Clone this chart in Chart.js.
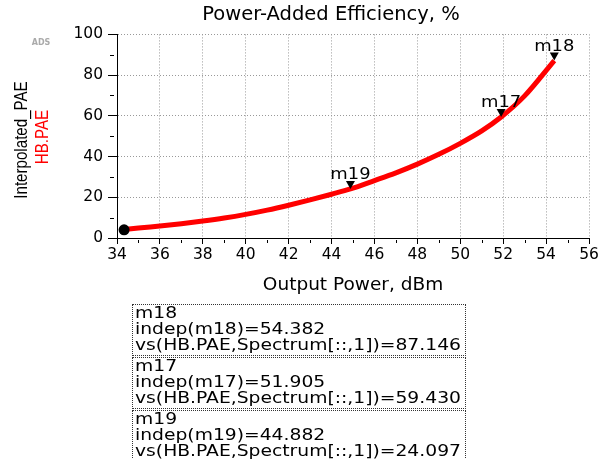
<!DOCTYPE html>
<html>
<head>
<meta charset="utf-8">
<script src="https://cdn.jsdelivr.net/npm/chart.js@4.4.1/dist/chart.umd.min.js"></script>
<style>
  html, body { margin: 0; padding: 0; background: #fff; }
  #wrap { position: relative; width: 611px; height: 459px; overflow: hidden; }
  #c { position: absolute; left: 0; top: 0; }
  .box {
    position: absolute; left: 132px; width: 330px; height: 50px;
    border: 1px dotted #333; padding: 0 0 0 2px;
    color: #000; white-space: nowrap; overflow: hidden;
  }
  .box div {
    font: 16px "DejaVu Sans", sans-serif; line-height: 16px; height: 16px;
    transform: scaleX(1.17); transform-origin: left center;
  }
</style>
</head>
<body>
<div id="wrap">
  <canvas id="c" width="611" height="459"></canvas>
</div>
<script>
// Curve (Output Power dBm -> PAE %)
const powerOut = [34.33, 35, 36, 37, 38, 39, 40, 41, 42, 43, 44, 44.882, 46, 47, 48, 49, 50, 51, 51.905, 53, 54.382];
const paeValues = [4.1, 4.9, 5.9, 7.0, 8.3, 9.8, 11.6, 13.7, 16.1, 18.7, 21.5, 24.097, 28.2, 32.0, 36.3, 41.1, 46.5, 52.6, 59.43, 69.8, 87.146];

// Start dot
const startX = [34.33];
const startY = [4.0];

// Markers
const markerNames = ['m18', 'm17', 'm19'];
const markerX = [54.382, 51.905, 44.882];
const markerY = [87.146, 59.430, 24.097];

// Axis ticks
const xTickValues = [34, 36, 38, 40, 42, 44, 46, 48, 50, 52, 54, 56];
const yTickValues = [0, 20, 40, 60, 80, 100];
const xMinorTicks = [35, 37, 39, 41, 43, 45, 47, 49, 51, 53, 55];
const yMinorTicks = [10, 30, 50, 70, 90];

// Texts
const chartTitle = 'Power-Added Efficiency, %';
const xTitle = 'Output Power, dBm';
const yTitle1 = 'Interpolated_PAE';
const yTitle2 = 'HB.PAE';

const FONT = '"DejaVu Sans", sans-serif';

// Minor ticks, y titles, ADS tag and marker triangles
const decorPlugin = {
  id: 'decor',
  afterDraw(chart) {
    const ctx = chart.ctx;
    const xs = chart.scales.x, ys = chart.scales.y;
    const area = chart.chartArea;
    ctx.save();
    ctx.strokeStyle = '#000';
    ctx.lineWidth = 1;
    ctx.beginPath();
    xMinorTicks.forEach(v => {
      const px = Math.round(xs.getPixelForValue(v)) + 0.5;
      ctx.moveTo(px, area.bottom + 2);
      ctx.lineTo(px, area.bottom + 5);
    });
    yMinorTicks.forEach(v => {
      const py = Math.round(ys.getPixelForValue(v)) + 0.5;
      ctx.moveTo(area.left - 7, py);
      ctx.lineTo(area.left - 3, py);
    });
    ctx.stroke();

    // y axis titles (narrow look)
    ctx.font = '18px "Liberation Sans", Arial, sans-serif';
    ctx.textAlign = 'center';
    ctx.textBaseline = 'middle';
    ctx.save();
    ctx.translate(22, 140);
    ctx.rotate(-Math.PI / 2);
    ctx.scale(0.84, 1);
    ctx.fillStyle = '#000';
    ctx.fillText(yTitle1, 0, 0);
    ctx.restore();
    ctx.save();
    ctx.translate(43, 137);
    ctx.rotate(-Math.PI / 2);
    ctx.scale(0.84, 1);
    ctx.fillStyle = '#ff0000';
    ctx.fillText(yTitle2, 0, 0);
    ctx.restore();

    // ADS tag
    ctx.font = 'bold 8px ' + FONT;
    ctx.fillStyle = '#aaa';
    ctx.fillText('ADS', 41, 43);

    // markers
    markerNames.forEach((name, i) => {
      const px = xs.getPixelForValue(markerX[i]);
      const py = ys.getPixelForValue(markerY[i]);
      ctx.fillStyle = '#000';
      ctx.beginPath();
      ctx.moveTo(px, py);
      ctx.lineTo(px - 4.5, py - 8);
      ctx.lineTo(px + 4.5, py - 8);
      ctx.closePath();
      ctx.fill();
      ctx.save();
      ctx.translate(px, py - 10);
      ctx.scale(1.12, 1);
      ctx.font = '16px ' + FONT;
      ctx.textBaseline = 'alphabetic';
      ctx.fillText(name, 0, 0);
      ctx.restore();
    });
    ctx.restore();
  }
};

const curveData = powerOut.map((x, i) => ({ x: x, y: paeValues[i] }));
const startData = startX.map((x, i) => ({ x: x, y: startY[i] }));

new Chart(document.getElementById('c'), {
  type: 'scatter',
  data: {
    datasets: [
      {
        data: startData,
        pointRadius: 5.5,
        pointBackgroundColor: '#000',
        pointBorderWidth: 0,
        showLine: false,
        order: 0
      },
      {
        data: curveData,
        showLine: true,
        borderColor: '#ff0000',
        borderWidth: 5,
        pointRadius: 0,
        cubicInterpolationMode: 'monotone',
        order: 1
      }
    ]
  },
  options: {
    responsive: false,
    animation: false,
    events: [],
    layout: { padding: { left: 73, right: 22, top: 0, bottom: 161 } },
    plugins: {
      legend: { display: false },
      tooltip: { enabled: false },
      title: {
        display: true,
        text: chartTitle,
        color: '#000',
        font: { family: FONT, size: 19.5, weight: 'normal' },
        padding: { top: 3, bottom: 8 }
      }
    },
    scales: {
      x: {
        type: 'linear',
        min: 34, max: 56,
        afterBuildTicks: s => { s.ticks = xTickValues.map(v => ({ value: v })); },
        afterFit: s => { s.height = 60; },
        ticks: { color: '#000', font: { family: FONT, size: 15.5 }, padding: 2, maxRotation: 0 },
        grid: { color: '#999', tickColor: '#000', tickLength: 6, lineWidth: 1 },
        border: { color: '#000', width: 1, dash: [1, 2] },
        title: { display: true, text: xTitle, color: '#000', font: { family: FONT, size: 18.5 }, padding: { top: 4, bottom: 2 } }
      },
      y: {
        type: 'linear',
        min: 0, max: 100,
        afterBuildTicks: s => { s.ticks = yTickValues.map(v => ({ value: v })); },
        afterFit: s => { s.width = 44; },
        ticks: { color: '#000', font: { family: FONT, size: 15.5 }, padding: 5 },
        grid: { color: '#999', tickColor: '#000', tickLength: 9, lineWidth: 1 },
        border: { color: '#000', width: 1, dash: [1, 2] }
      }
    }
  },
  plugins: [decorPlugin]
});

// Marker readout boxes
const boxTops = [304, 357, 410];
const wrap = document.getElementById('wrap');
markerNames.forEach((name, i) => {
  const d = document.createElement('div');
  d.className = 'box';
  d.style.top = boxTops[i] + 'px';
  const lines = [name, 'indep(' + name + ')=' + markerX[i].toFixed(3),
    'vs(HB.PAE,Spectrum[::,1])=' + markerY[i].toFixed(3)];
  lines.forEach(t => {
    const l = document.createElement('div');
    l.textContent = t;
    d.appendChild(l);
  });
  wrap.appendChild(d);
});
</script>
</body>
</html>
